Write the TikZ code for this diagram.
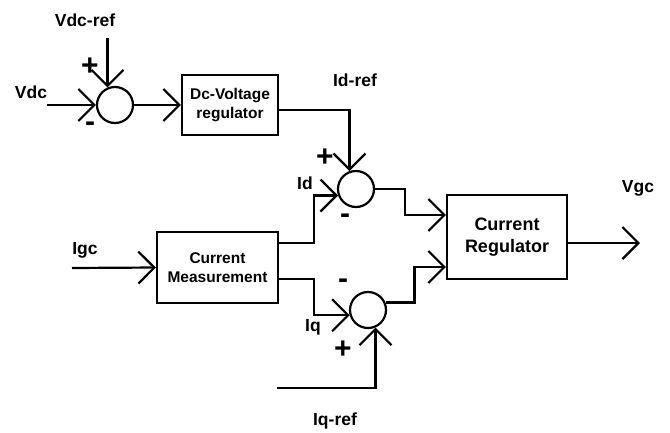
\documentclass[tikz,border=0pt]{standalone}
\usepackage{fontspec}
\setmainfont{Liberation Sans}
\usetikzlibrary{arrows.meta}
\tikzset{
  block/.style={draw, line width=2.2pt, inner sep=0pt, align=center,
    font=\bfseries\fontsize{15.5}{19}\selectfont},
  sumnode/.style={draw, circle, line width=2.2pt, minimum size=36pt, inner sep=0pt},
  sig/.style={line width=2.2pt, -{Straight Barb[length=16pt,width=32pt,line width=2.2pt]}},
  lbl/.style={font=\bfseries\fontsize{17.5}{20}\selectfont},
  sgn/.style={font=\bfseries\fontsize{30}{30}\selectfont},
}

\begin{document}
\begin{tikzpicture}[x=1pt,y=-1pt]
      \useasboundingbox (0,0) rectangle (670,432);
      \node[block, minimum width=96pt, minimum height=60pt] (dcreg) at (230,105) {Dc-Voltage\\regulator};
      \node[block, minimum width=121pt, minimum height=71pt] (meas) at (217.5,267.5) {Current\\Measurement};
      \node[block, minimum width=120pt, minimum height=84pt,
        font=\bfseries\fontsize{18}{22}\selectfont] (creg) at (507,237) {Current\\Regulator};

      \node[sumnode] (sum1) at (115,105) {};
      \node[sumnode] (sum2) at (356,189) {};
      \node[sumnode] (sum3) at (368,310) {};

      \coordinate (vdc) at (47,105);
      \coordinate (vdcref) at (sum1.113 |- 0,38);
      \coordinate (igc) at (72,268);
      \coordinate (iqref) at (277,388);
      \coordinate (vgc) at (640,243);

      % dc loop
      \draw[sig] (vdc) -- (sum1.west);
      \draw[sig] (vdcref) -- (sum1.113);
      \draw[sig] (sum1.east) -- (dcreg.west);
      \draw[sig] (dcreg.east |- 0,110) -| (sum2.110);

      % current loop
      \draw[sig] (igc) -- (meas.west);
      \draw[sig] (meas.east |- 0,243) -- ++(35,0) |- (sum2.200);
      \draw[sig] (meas.east |- 0,279) -- ++(35,0) |- (sum3.196);
      \draw[sig] (iqref) -| (sum3.293);
      \draw[sig] (sum2.east) -- ++(30,0) |- (creg.west |- 0,215);
      \draw[sig] (sum3.23) -- ++(29,0) |- (creg.west |- 0,267);
      \draw[sig] (creg.east |- vgc) -- (vgc);

      \node[lbl] (lvdcref) at (85,20) {Vdc-ref};
      \node[lbl] (lvdc) at (31,92) {Vdc};
      \node[lbl] (lidref) at (355,80) {Id-ref};
      \node[lbl] (lid) at (305,183) {Id};
      \node[lbl] (liq) at (313,327) {Iq};
      \node[lbl] (liqref) at (335,421) {Iq-ref};
      \node[lbl] (ligc) at (85,250) {Igc};
      \node[lbl] (lvgc) at (638,188) {Vgc};

      \node[sgn] (p1) at (90,67) {+};
      \node[sgn] (m1) at (90,127) {-};
      \node[sgn] (p2) at (325,158) {+};
      \node[sgn] (m2) at (345,219) {-};
      \node[sgn] (m3) at (343,284) {-};
      \node[sgn] (p3) at (343,350) {+};
    \end{tikzpicture}
\end{document}
